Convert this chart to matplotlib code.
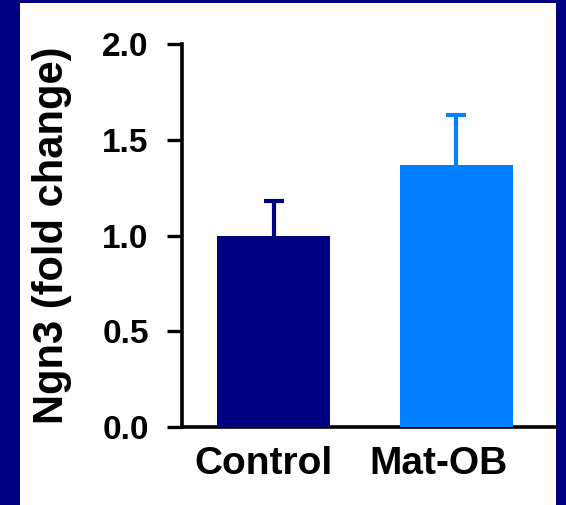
import matplotlib
matplotlib.use('Agg')
import matplotlib.pyplot as plt
from matplotlib.patches import Rectangle
from matplotlib.transforms import ScaledTranslation
import numpy as np

# ================= data =================
groups = ['Control', 'Mat-OB']
fold_change = [1.00, 1.37]
sem = [0.18, 0.26]
bar_colors = ['#000080', '#0080FF']

y_ticks = [0.0, 0.5, 1.0, 1.5, 2.0]
y_ticklabels = ['0.0', '0.5', '1.0', '1.5', '2.0']

if __name__ == '__main__':
    plt.rcParams['font.family'] = 'Liberation Sans'
    plt.rcParams['font.weight'] = 'bold'

    fig = plt.figure(figsize=(5.66, 5.05), dpi=100)
    fig.patch.set_facecolor('#000080')

    # white slide panel behind the axes
    fig.patches.append(Rectangle((20 / 566, 0), 536 / 566, 502 / 505,
                                 transform=fig.transFigure, facecolor='white',
                                 edgecolor='none', zorder=-10))

    ax = fig.add_axes([182 / 566, 78 / 505, 374 / 566, 383 / 505])
    ax.set_facecolor('none')
    ax.set_zorder(1)

    x_pos = np.arange(len(groups))
    for i in range(len(groups)):
        ax.bar(x_pos[i], fold_change[i], 0.62, color=bar_colors[i], zorder=3)
        # symmetric SEM, lower half hidden behind the bar
        ax.errorbar(x_pos[i], fold_change[i], yerr=sem[i], fmt='none',
                    ecolor=bar_colors[i], elinewidth=3, capsize=7, capthick=3,
                    zorder=2)

    ax.set_xlim(-0.502, 1.546)
    ax.set_ylim(0, 2.0)

    for side in ['top', 'right']:
        ax.spines[side].set_visible(False)
    for side in ['left', 'bottom']:
        ax.spines[side].set_linewidth(2.6)
        ax.spines[side].set_color('black')

    ax.set_yticks(y_ticks)
    ax.set_yticklabels(y_ticklabels, fontsize=24, fontweight='bold')
    ax.tick_params(axis='y', direction='out', length=11, width=2.4, pad=13)

    ax.set_xticks(x_pos)
    ax.set_xticklabels(groups, fontsize=28, fontweight='bold')
    ax.tick_params(axis='x', length=0, pad=14)
    # group names sit a little left of the bar centres
    for lab, dx in zip(ax.get_xticklabels(), [-7, -13]):
        lab.set_transform(lab.get_transform() +
                          ScaledTranslation(dx / 72, 0, fig.dpi_scale_trans))

    ax.set_ylabel('Ngn3 (fold change)', fontsize=30, fontweight='bold')
    ax.yaxis.set_label_coords(-0.294, 0.5)

    plt.savefig('out.png', dpi=100, facecolor=fig.get_facecolor())
